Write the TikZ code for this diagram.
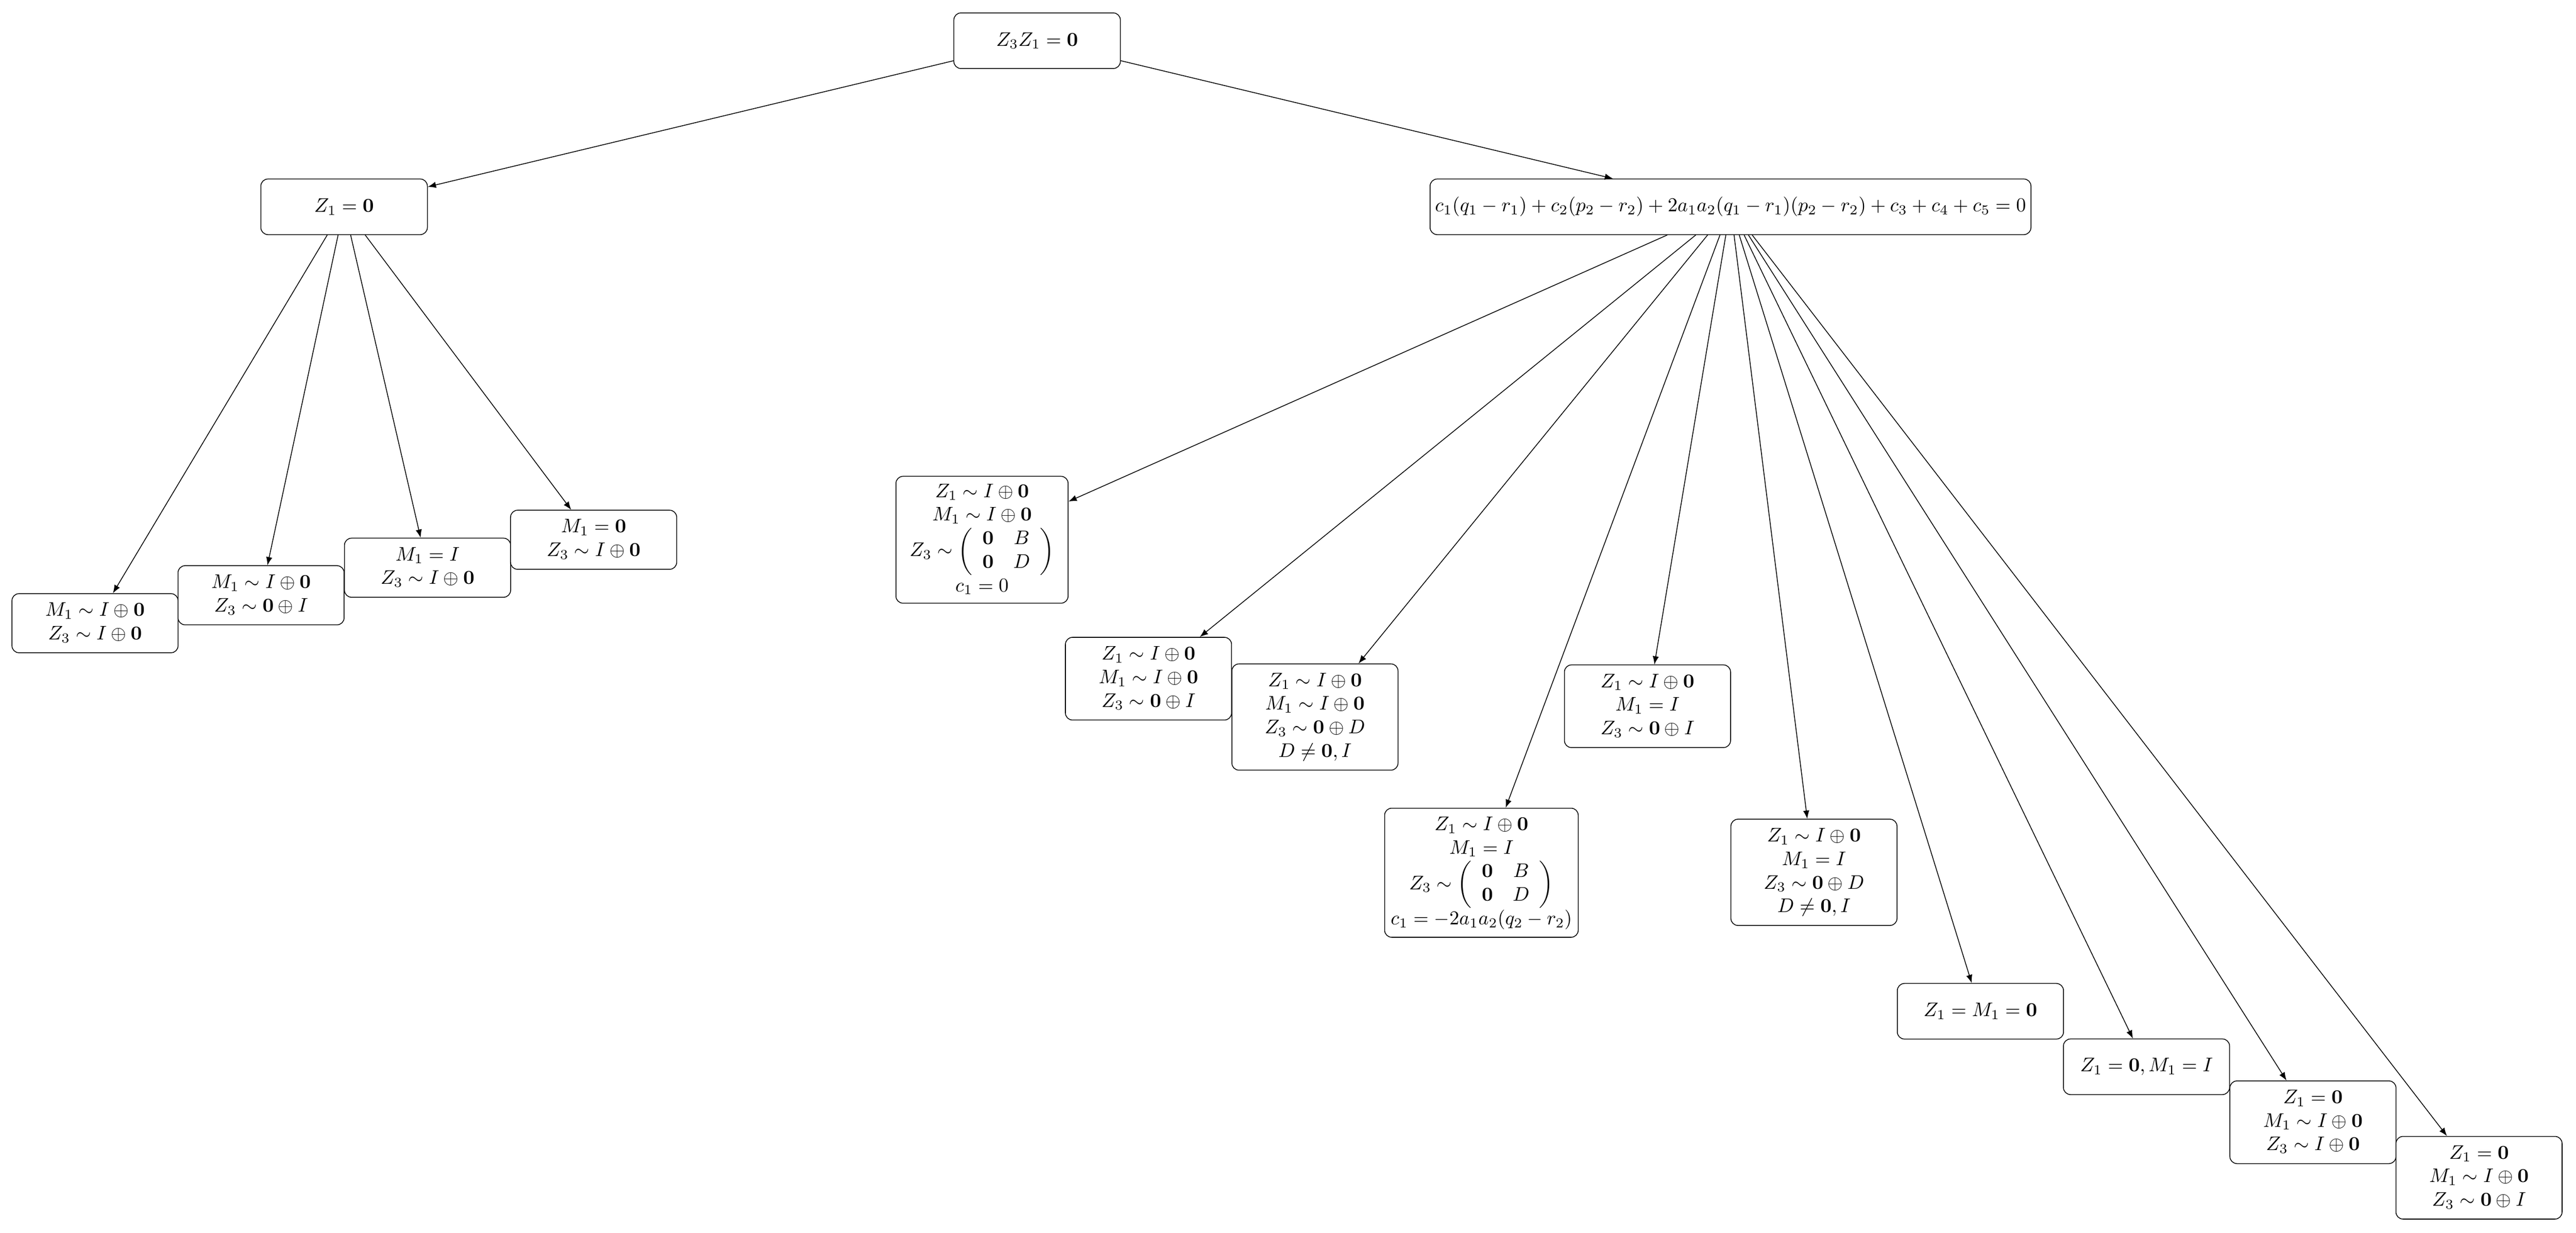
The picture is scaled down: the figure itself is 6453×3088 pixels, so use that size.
\documentclass[tikz,border=0pt]{standalone}
\usepackage{amsmath}
\usetikzlibrary{arrows.meta}
\begin{document}
\begin{tikzpicture}[x=0.2033pt,y=-0.2033pt,
  box/.style={draw,rounded corners=3.6pt,inner sep=2pt,minimum width=84.6pt,minimum height=28.3pt,align=center,fill=white},
  h2/.style={minimum height=30.1pt},
  h3/.style={minimum height=42.1pt},
  h4/.style={minimum height=54.1pt},
  arr/.style={-{Latex[length=4.2pt,width=3.2pt]}}]
\useasboundingbox (0,0) rectangle (6453,3088);
\newcommand{\mz}{\mathbf{0}}
\node[box,minimum width=84.8pt] (root) at (2598,102) {$Z_3Z_1=\mz$};
\node[box,minimum width=84.8pt] (n1) at (862,518) {$Z_1=\mz$};
\node[box,minimum width=306pt] (big) at (4335,518) {$c_1(q_1-r_1)+c_2(p_2-r_2)+2a_1a_2(q_1-r_1)(p_2-r_2)+c_3+c_4+c_5=0$};
% left leaves
\node[box,h2] (l1) at (238,1561) {$\begin{array}{c}M_1\sim I\oplus\mz\\ Z_3\sim I\oplus\mz\end{array}$};
\node[box,h2] (l2) at (654,1491) {$\begin{array}{c}M_1\sim I\oplus\mz\\ Z_3\sim \mz\oplus I\end{array}$};
\node[box,h2] (l3) at (1071,1422) {$\begin{array}{c}M_1=I\\ Z_3\sim I\oplus\mz\end{array}$};
\node[box,h2] (l4) at (1487,1352) {$\begin{array}{c}M_1=\mz\\ Z_3\sim I\oplus\mz\end{array}$};
% right leaves
\node[box,minimum height=64.6pt] (r1) at (2460,1352) {$\begin{array}{c}Z_1\sim I\oplus\mz\\ M_1\sim I\oplus\mz\\ Z_3\sim\left(\begin{array}{cc}\mz & B\\ \mz & D\end{array}\right)\\ c_1=0\end{array}$};
\node[box,h3] (r2) at (2877,1700) {$\begin{array}{c}Z_1\sim I\oplus\mz\\ M_1\sim I\oplus\mz\\ Z_3\sim\mz\oplus I\end{array}$};
\node[box,h4] (r3) at (3294,1796) {$\begin{array}{c}Z_1\sim I\oplus\mz\\ M_1\sim I\oplus\mz\\ Z_3\sim\mz\oplus D\\ D\neq\mz,I\end{array}$};
\node[box,minimum width=98.6pt,minimum height=65.7pt,inner xsep=1pt] (r4) at (3711,2186) {$\begin{array}{@{}c@{}}Z_1\sim I\oplus\mz\\ M_1=I\\ Z_3\sim\left(\begin{array}{cc}\mz & B\\ \mz & D\end{array}\right)\\ c_1=-2a_1a_2(q_2-r_2)\end{array}$};
\node[box,h3] (r5) at (4127,1769) {$\begin{array}{c}Z_1\sim I\oplus\mz\\ M_1=I\\ Z_3\sim\mz\oplus I\end{array}$};
\node[box,h4] (r6) at (4544,2185) {$\begin{array}{c}Z_1\sim I\oplus\mz\\ M_1=I\\ Z_3\sim\mz\oplus D\\ D\neq\mz,I\end{array}$};
\node[box] (r7) at (4961,2533) {$Z_1=M_1=\mz$};
\node[box] (r8) at (5377,2672) {$Z_1=\mz,M_1=I$};
\node[box,h3] (r9) at (5794,2811) {$\begin{array}{c}Z_1=\mz\\ M_1\sim I\oplus\mz\\ Z_3\sim I\oplus\mz\end{array}$};
\node[box,h3] (r10) at (6210,2950) {$\begin{array}{c}Z_1=\mz\\ M_1\sim I\oplus\mz\\ Z_3\sim\mz\oplus I\end{array}$};
% edges
\draw[arr] (root) -- (n1);
\draw[arr] (root) -- (big);
\foreach \t in {l1,l2,l3,l4} \draw[arr] (n1) -- (\t);
\foreach \t in {r1,r2,r3,r4,r5,r6,r7,r8,r9,r10} \draw[arr] (big) -- (\t);
\end{tikzpicture}
\end{document}
